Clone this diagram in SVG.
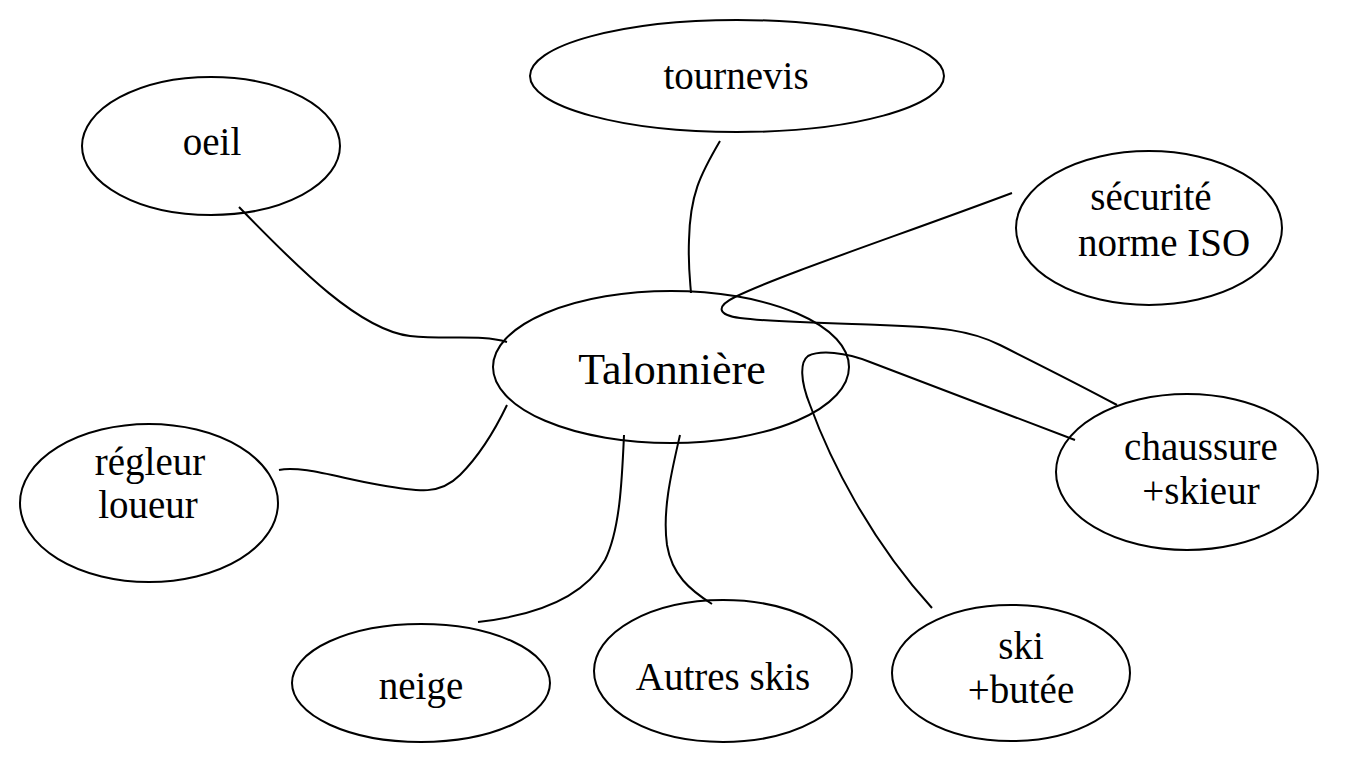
<svg xmlns="http://www.w3.org/2000/svg" width="1347" height="770" viewBox="0 0 1347 770">
<style>
.n{fill:#fff;stroke:#000;stroke-width:2}
.t{font-family:"Liberation Serif","Times New Roman",serif;font-size:39px;fill:#000;text-anchor:middle}
.big{font-size:44px}
.c{fill:none;stroke:#000;stroke-width:2}
</style>
<rect width="1347" height="770" fill="#fff"/>
<g id="n-tournevis"><ellipse class="n" cx="737" cy="76" rx="207" ry="56"/><text class="t" x="736" y="89">tournevis</text></g>
<g id="n-oeil"><ellipse class="n" cx="211" cy="146" rx="129" ry="69"/><text class="t" x="212" y="155">oeil</text></g>
<g id="n-securite"><ellipse class="n" cx="1149" cy="228" rx="133" ry="77"/><text class="t" x="1151" y="210">sécurité</text><text class="t" x="1164" y="256">norme ISO</text></g>
<g id="n-talonniere"><ellipse class="n" cx="671" cy="367" rx="178" ry="76"/><text class="t big" x="672" y="384">Talonnière</text></g>
<g id="n-regleur"><ellipse class="n" cx="149" cy="503" rx="129" ry="79"/><text class="t" x="150" y="475">régleur</text><text class="t" x="148" y="518">loueur</text></g>
<g id="n-chaussure"><ellipse class="n" cx="1187" cy="472" rx="131" ry="78"/><text class="t" x="1201" y="460">chaussure</text><text class="t" x="1201" y="504">+skieur</text></g>
<g id="n-neige"><ellipse class="n" cx="421" cy="683" rx="129" ry="59"/><text class="t" x="421" y="699">neige</text></g>
<g id="n-autres"><ellipse class="n" cx="723" cy="671" rx="129" ry="71"/><text class="t" x="723" y="690">Autres skis</text></g>
<g id="n-ski"><ellipse class="n" cx="1011" cy="673" rx="119" ry="68"/><text class="t" x="1021" y="659">ski</text><text class="t" x="1021" y="703">+butée</text></g>
<g id="connectors">
<path class="c" d="M720,141 C700,175 690,195 689,240 C688,265 690,280 691,293"/>
<path class="c" d="M239,207 C300,270 360,330 410,336 C450,340 480,334 507,342"/>
<path class="c" d="M279,470 C300,465 340,478 380,485 C420,492 440,495 460,475 C480,455 495,430 507,405"/>
<path class="c" d="M1012,193 C900,235 780,275 735,297 C715,307 718,315 740,318 C770,322 820,323 880,325 C940,327 970,330 1000,345 C1040,365 1080,385 1117,405"/>
<path class="c" d="M1075,440 L870,362 C845,352 820,350 808,356 C800,362 800,380 810,405 C830,460 870,540 932,608"/>
<path class="c" d="M624,435 C622,480 620,530 605,560 C585,595 540,615 478,622"/>
<path class="c" d="M680,435 C672,470 662,510 667,545 C672,575 690,590 712,604"/>
</g>
</svg>
